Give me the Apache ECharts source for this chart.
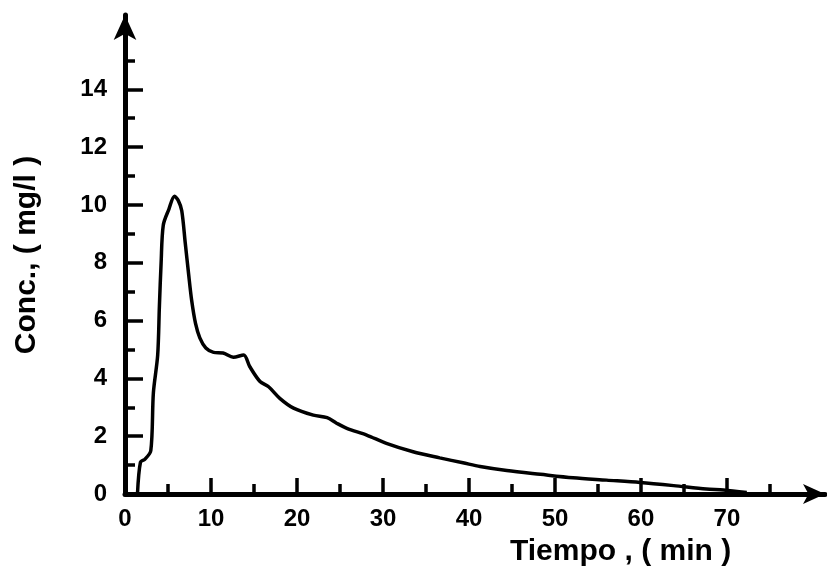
<!DOCTYPE html>
<html>
<head>
<meta charset="utf-8">
<script src="https://cdn.jsdelivr.net/npm/echarts@6/dist/echarts.min.js"></script>
<style>
  html, body { margin: 0; padding: 0; background: #ffffff; }
  #chart { width: 827px; height: 568px; }
</style>
</head>
<body>
<div id="chart"></div>
<script>
// Time (min)
const tiempo = [1.45, 1.8, 2.3, 3.0, 3.3, 3.8, 4.0, 4.2, 4.45, 5.1, 5.75, 6.2, 6.6, 7.0, 7.4, 7.75, 8.2, 8.7, 9.4, 10.3, 11.4, 12.6, 13.8, 14.5, 15.7, 16.7, 18.0, 19.6, 21.9, 23.5, 24.6, 25.8, 28.1, 30.4, 33.5, 36.6, 39.3, 41.3, 44.4, 48.3, 52.1, 56.0, 59.9, 63.8, 67.6, 69.6, 72.3];
// Concentration (mg/l)
const conc = [0.0, 1.1, 1.2, 1.5, 3.5, 4.8, 6.5, 8.0, 9.3, 9.85, 10.3, 10.15, 9.8, 8.7, 7.6, 6.7, 5.9, 5.4, 5.05, 4.9, 4.88, 4.73, 4.81, 4.41, 3.89, 3.71, 3.31, 2.97, 2.73, 2.64, 2.45, 2.27, 2.04, 1.75, 1.46, 1.25, 1.08, 0.95, 0.81, 0.68, 0.56, 0.48, 0.40, 0.29, 0.17, 0.14, 0.05];
// Axis ticks
const xLabels = [0, 10, 20, 30, 40, 50, 60, 70];
const xMajorTicks = [10, 20, 30, 40, 50, 60, 70];
const xMinorTicks = [5, 15, 25, 35, 45, 55, 65, 75];
const yLabels = [0, 2, 4, 6, 8, 10, 12, 14];
const yMajorTicks = [2, 4, 6, 8, 10, 12, 14];
const yMinorTicks = [1, 3, 5, 7, 9, 11, 13, 15];
const xTitle = 'Tiempo , ( min )';
const yTitle = 'Conc., ( mg/l )';

const X_MAX = 81.4, Y_MAX = 16.57;
const FONT = '"Liberation Sans", Arial, sans-serif';
const chart = echarts.init(document.getElementById('chart'), null, { renderer: 'canvas' });

const lineStyleAxis = { color: '#000', width: 5 };
function xAx(ticks, len, withLine, withLabels) {
  return {
    type: 'value', min: 0, max: X_MAX, position: 'bottom',
    axisLine: withLine ? { show: true, onZero: false, symbol: ['none', 'arrow'], symbolSize: [15, 22], lineStyle: lineStyleAxis } : { show: false },
    axisTick: { show: true, inside: true, length: len, customValues: ticks, lineStyle: { color: '#000', width: 3.5 } },
    axisLabel: withLabels ? { show: true, customValues: xLabels, margin: 13, color: '#000', fontFamily: FONT, fontWeight: 'bold', fontSize: 24 } : { show: false },
    splitLine: { show: false }
  };
}
function yAx(ticks, len, withLine, withLabels) {
  return {
    type: 'value', min: 0, max: Y_MAX, position: 'left',
    axisLine: withLine ? { show: true, onZero: false, symbol: ['none', 'arrow'], symbolSize: [17, 25], lineStyle: lineStyleAxis } : { show: false },
    axisTick: { show: true, inside: true, length: len, customValues: ticks, lineStyle: { color: '#000', width: 3.5 } },
    axisLabel: withLabels ? { show: true, customValues: yLabels, margin: 18, color: '#000', fontFamily: FONT, fontWeight: 'bold', fontSize: 24 } : { show: false },
    splitLine: { show: false }
  };
}

chart.setOption({
  animation: false,
  backgroundColor: '#ffffff',
  grid: { left: 125, right: 2, top: 15, bottom: 74, containLabel: false },
  xAxis: [xAx(xMajorTicks, 16, true, true), xAx(xMinorTicks, 10, false, false)],
  yAxis: [yAx(yMajorTicks, 18, true, true), yAx(yMinorTicks, 10, false, false)],
  graphic: [
    { type: 'text', left: 510, top: 537, style: { text: xTitle, fill: '#000', font: 'bold 30px ' + FONT } },
    { type: 'text', x: 27, y: 255, rotation: Math.PI / 2, style: { text: yTitle, fill: '#000', font: 'bold 30px ' + FONT, align: 'center', verticalAlign: 'middle' } }
  ],
  series: [{
    type: 'line',
    xAxisIndex: 0, yAxisIndex: 0,
    data: tiempo.map((t, i) => [t, conc[i]]),
    showSymbol: false, smooth: 0.3,
    lineStyle: { color: '#000', width: 3.5 }
  }]
});
</script>
</body>
</html>
